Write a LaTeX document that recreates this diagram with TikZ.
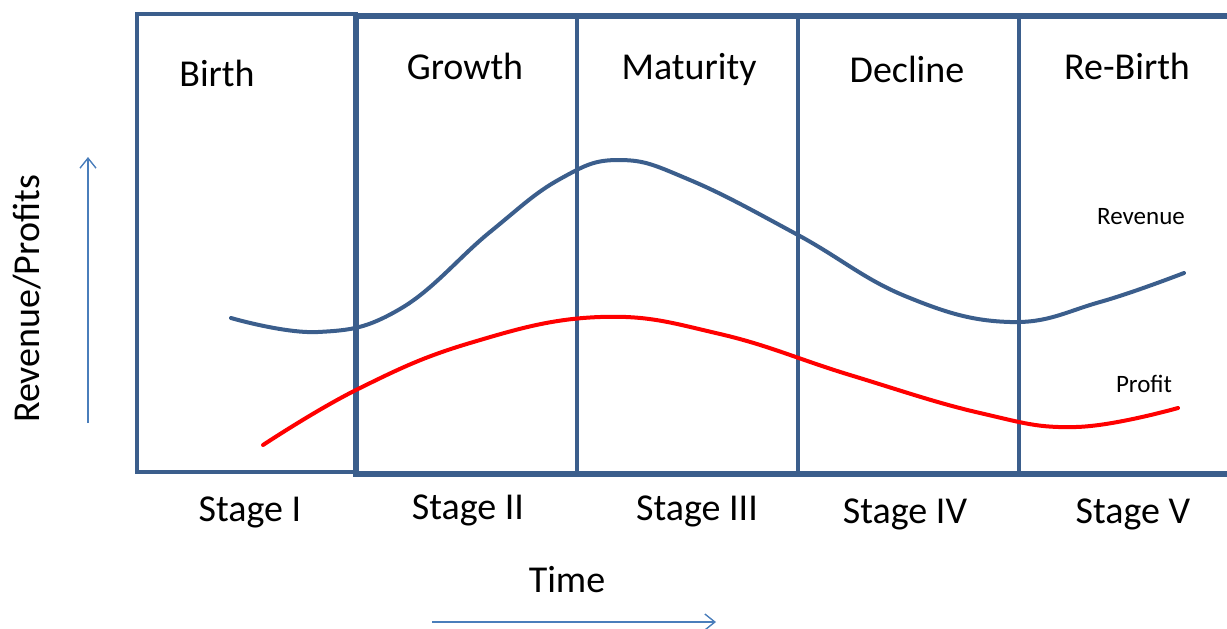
\documentclass[tikz,border=0pt]{standalone}
\usepackage{fontspec}
\setmainfont{Carlito}
\usepackage{tikz}
\usetikzlibrary{arrows.meta}
\definecolor{frameblue}{HTML}{3B5E8C}
\definecolor{axisblue}{HTML}{4A7EBB}

\begin{document}
\begin{tikzpicture}[x=0.5pt, y=-0.5pt, >={Straight Barb[length=5pt, width=8pt]},
    bigtext/.style={font=\fontsize{19}{23}\selectfont, anchor=base, inner sep=0pt},
    smalltext/.style={font=\fontsize{12.5}{15}\selectfont, anchor=base, inner sep=0pt},
    axis/.style={draw=axisblue, line width=0.7pt},
    curve/.style={line width=2pt, line cap=round}]
\useasboundingbox (0,0) rectangle (1227,628);
                % Cajas
                \draw[frameblue, line width=2.2pt] (137,14) rectangle (356,472);
                \draw[frameblue, line width=3pt] (1240,16) -- (356,16) -- (356,474) -- (1240,474);
                \draw[frameblue, line width=2.2pt] (577,16) -- (577,474);
                \draw[frameblue, line width=2.2pt] (798,16) -- (798,474);
                \draw[frameblue, line width=2.2pt] (1019,16) -- (1019,474);
                % Etapas
                \node[bigtext] (birth) at (217,86) {Birth};
                \node[bigtext] (growth) at (465,79) {Growth};
                \node[bigtext] (maturity) at (689,79) {Maturity};
                \node[bigtext] (decline) at (907,82) {Decline};
                \node[bigtext] (rebirth) at (1127,79) {Re-Birth};
                \node[bigtext] (s1) at (250,521) {Stage I};
                \node[bigtext] (s2) at (468,519) {Stage II};
                \node[bigtext] (s3) at (697,520) {Stage III};
                \node[bigtext] (s4) at (905,523) {Stage IV};
                \node[bigtext] (s5) at (1133,523) {Stage V};
                % Ejes
                \node[bigtext] (time) at (567,592) {Time};
                \node[bigtext, rotate=90, anchor=center] (yaxis) at (27,299) {Revenue/Profits};
                \coordinate (ybot) at (88,423);
                \coordinate (ytop) at (88,157);
                \draw[axis, ->] (ybot) -- (ytop);
                \coordinate (tleft) at (432,622);
                \coordinate (tright) at (716,622);
                \draw[axis, ->] (tleft) -- (tright);
                % Curvas
                \draw[curve, frameblue] plot[smooth, tension=0.7] coordinates {(231,318) (318,332) (400,309) (490,232) (560,179) (620,160) (690,180) (798,235) (905,296) (1010,322) (1100,302) (1184,273)};
                \draw[curve, red] plot[smooth, tension=0.7] coordinates {(263,445) (358,389) (470,343) (600,317) (720,334) (850,375) (980,413) (1076,427) (1178,408)};
                \node[smalltext] (rev) at (1141,224) {Revenue};
                \node[smalltext] (prof) at (1144,392) {Profit};
            \end{tikzpicture}
\end{document}
